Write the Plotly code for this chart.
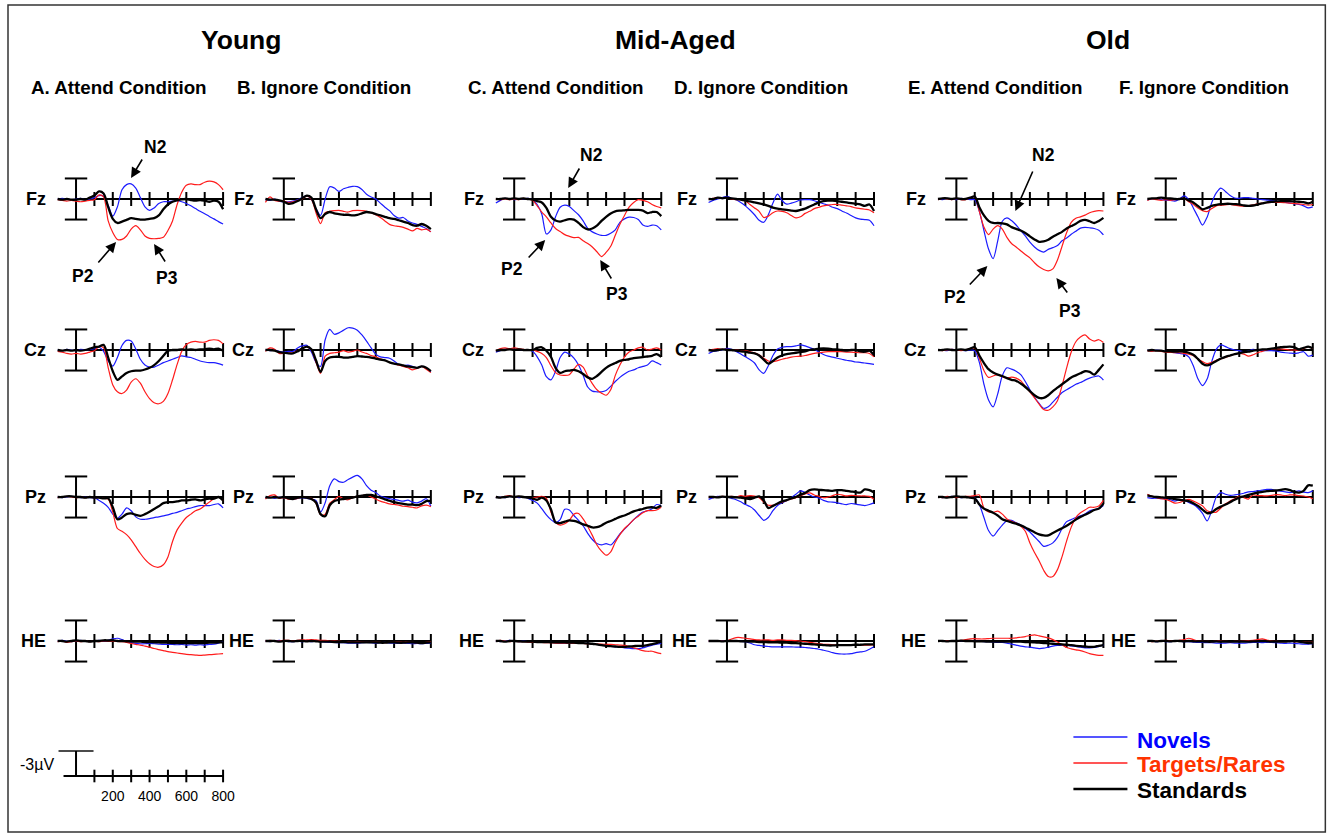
import plotly.graph_objects as go

# ---------------- data (microvolts, positive = downward as in the figure) -------------
T_MS = list(range(-100, 801, 25))  # 37 samples, -100 .. 800 ms

# Column A: Young, Attend
A_FZ_NOV = [0.0, -0.1, 0.0, 0.1, 0.0, -0.1, 0.1, 0.0, -0.2,
            -0.5, -0.4, 0.9, 2.5, 1.15, -1.35, -2.1, -2.2,
            -1.6, -0.2, 1.15, 1.65, 1.3, 0.65, 0.4, 0.4,
            0.3, 0.25, 0.4, 0.65, 1.0, 1.4, 1.8, 2.15,
            2.55, 2.9, 3.3, 3.65]
A_FZ_TAR = [0.1, 0.2, 0.3, 0.2, 0.3, 0.4, 0.3, 0.2, 0.1,
            -0.6, -0.3, 3.2, 4.9, 5.9, 5.9, 5.4, 4.4,
            3.9, 4.5, 5.4, 5.75, 5.8, 5.75, 5.6, 4.6,
            3.2, 0.8, -1.0, -2.0, -2.2, -2.1, -2.1, -2.45,
            -2.6, -2.5, -2.1, -1.35]
A_FZ_STD = [0.0, 0.1, 0.0, 0.1, 0.1, 0.0, 0.1, -0.2, -0.5,
            -1.1, -0.8, 1.2, 2.9, 3.5, 3.3, 3.05, 2.8,
            2.9, 3.0, 3.0, 2.9, 2.8, 2.4, 1.5, 0.8,
            0.4, 0.2, 0.05, 0.0, 0.15, 0.25, 0.15, 0.25,
            0.4, 0.25, 0.4, 1.5]
A_CZ_NOV = [0.0, 0.1, -0.1, 0.0, 0.1, -0.1, 0.0, -0.1, -0.2,
            -0.4, 0.2, 1.6, 2.35, 1.1, -0.65, -1.4, -1.3,
            -0.15, 1.35, 2.2, 2.5, 2.5, 2.2, 1.85, 1.6,
            1.35, 1.1, 0.85, 1.0, 1.1, 1.35, 1.6, 1.75,
            1.85, 1.85, 2.0, 2.2]
A_CZ_TAR = [0.2, 0.3, 0.5, 0.6, 0.5, 0.6, 0.5, 0.3, 0.1,
            -0.5, -0.3, 2.6, 5.1, 6.1, 6.35, 5.85, 4.7,
            4.2, 4.85, 6.1, 7.1, 7.7, 7.85, 7.5, 6.35,
            4.35, 2.1, 0.2, -0.8, -1.15, -1.25, -1.15, -1.15,
            -1.4, -1.5, -1.4, -0.9]
A_CZ_STD = [0.0, 0.1, 0.0, 0.1, 0.0, 0.1, 0.0, -0.2, -0.4,
            -0.5, -0.75, 1.1, 3.1, 4.35, 3.85, 3.35, 3.1,
            3.0, 3.0, 2.85, 2.6, 2.2, 1.6, 0.85, 0.1,
            0.0, 0.0, -0.1, 0.0, -0.1, 0.0, -0.1, -0.1,
            -0.2, -0.1, -0.2, 0.1]
A_PZ_NOV = [0.0, 0.1, 0.0, -0.1, 0.0, 0.1, 0.0, 0.1, 0.1,
            0.5, 0.9, 1.5, 2.5, 3.1, 2.5, 1.6, 2.0,
            2.9, 3.25, 3.25, 3.15, 3.0, 2.9, 2.75, 2.6,
            2.4, 2.25, 2.0, 1.75, 1.6, 1.4, 1.25, 1.25,
            1.25, 1.1, 1.0, 1.6]
A_PZ_TAR = [0.1, 0.0, -0.1, 0.0, 0.1, 0.0, 0.1, 0.0, 0.1,
            0.1, 0.2, 0.3, 2.2, 4.6, 5.0, 5.5, 6.25,
            7.25, 8.25, 9.1, 9.75, 10.15, 10.25, 9.9, 8.75,
            6.5, 4.8, 3.8, 3.0, 2.5, 2.0, 1.75, 1.25,
            0.75, 0.25, 0.0, 0.5]
A_PZ_STD = [0.0, 0.0, -0.1, -0.1, 0.0, 0.0, 0.1, 0.0, 0.1,
            0.1, 0.2, 0.2, 1.5, 3.25, 3.0, 2.5, 2.4,
            2.6, 2.75, 2.5, 2.15, 1.75, 1.35, 0.9, 0.75,
            0.75, 0.65, 0.5, 0.5, 0.4, 0.35, 0.5, 0.35,
            0.25, 0.25, 0.0, 0.5]
A_HE_NOV = [0.0, -0.1, 0.0, 0.1, 0.0, -0.1, 0.0, 0.1, 0.0,
            -0.1, 0.0, -0.1, -0.3, -0.4, -0.2, 0.1, 0.25,
            0.35, 0.4, 0.4, 0.35, 0.4, 0.45, 0.5, 0.5,
            0.5, 0.55, 0.5, 0.6, 0.55, 0.6, 0.55, 0.6,
            0.5, 0.45, 0.3, 0.1]
A_HE_TAR = [0.1, 0.0, 0.2, 0.1, 0.0, 0.1, 0.0, 0.1, 0.0,
            0.1, 0.0, 0.0, 0.05, 0.05, 0.1, 0.2, 0.35,
            0.5, 0.6, 0.75, 0.9, 1.1, 1.25, 1.4, 1.55,
            1.65, 1.75, 1.85, 1.95, 2.0, 2.05, 2.1, 2.05,
            2.0, 1.95, 1.9, 1.85]
A_HE_STD = [0.0, 0.0, 0.1, 0.0, -0.1, 0.0, 0.0, 0.1, 0.0,
            0.0, -0.1, -0.1, -0.1, 0.0, 0.0, 0.05, 0.05,
            0.1, 0.1, 0.15, 0.15, 0.2, 0.2, 0.25, 0.25,
            0.3, 0.3, 0.3, 0.3, 0.3, 0.3, 0.3, 0.3,
            0.25, 0.25, 0.2, 0.2]

# Column B: Young, Ignore
B_FZ_NOV = [0.1, 0.2, 0.0, 0.3, 0.4, 0.4, 0.3, 0.1, -0.2,
            -0.5, 0.0, 1.4, 2.4, 0.0, -1.8, -1.6, -1.1,
            -1.5, -1.7, -1.85, -1.8, -1.4, -0.7, -0.3, 0.0,
            0.6, 1.2, 1.7, 2.4, 2.8, 2.7, 3.2, 3.5,
            3.7, 4.0, 4.3, 4.8]
B_FZ_TAR = [0.5, -0.3, 0.2, 0.3, 0.3, 0.5, 0.4, 0.2, 0.0,
            -0.4, 0.0, 2.0, 3.6, 2.0, 1.8, 1.7, 1.65,
            1.8, 1.9, 1.7, 1.65, 1.7, 1.8, 2.0, 2.3,
            2.7, 3.2, 3.7, 3.9, 4.0, 4.15, 4.4, 4.65,
            4.3, 4.5, 4.4, 4.8]
B_FZ_STD = [0.0, 0.1, 0.1, 0.2, 0.4, 0.7, 0.6, 0.3, -0.1,
            -0.5, -0.2, 1.5, 2.8, 2.2, 1.9, 2.1, 2.2,
            2.3, 2.3, 2.4, 2.3, 2.1, 1.9, 2.0, 2.2,
            2.4, 2.6, 2.8, 2.9, 3.1, 3.3, 3.5, 3.8,
            3.9, 3.65, 3.9, 4.4]
B_CZ_NOV = [0.0, 0.1, 0.0, 0.2, 0.3, 0.2, 0.2, -0.3, -0.6,
            -0.7, 0.3, 1.8, 2.4, -1.5, -3.0, -2.3, -2.5,
            -2.9, -3.25, -3.2, -2.9, -2.2, -1.3, -0.3, 0.6,
            1.0, 1.1, 1.2, 1.6, 2.1, 2.3, 2.2, 2.4,
            2.6, 2.4, 2.6, 3.2]
B_CZ_TAR = [0.2, -0.3, -0.1, 0.5, 0.5, 0.4, 0.4, 0.1, -0.2,
            -0.5, 0.0, 1.8, 3.4, 0.9, 0.5, 0.4, 0.3,
            0.1, 0.3, 0.2, 0.0, 0.3, 0.5, 0.8, 1.0,
            1.3, 1.5, 1.8, 2.0, 2.2, 2.4, 2.6, 2.9,
            2.7, 2.4, 2.8, 3.3]
B_CZ_STD = [0.0, 0.0, 0.1, 0.3, 0.4, 0.5, 0.5, 0.2, -0.2,
            -0.5, -0.1, 1.5, 3.2, 1.6, 1.1, 1.0, 1.0,
            1.1, 1.1, 1.0, 0.9, 0.95, 1.0, 1.1, 1.25,
            1.4, 1.5, 1.8, 2.0, 2.1, 2.25, 2.4, 2.5,
            2.6, 2.4, 2.6, 3.1]
B_PZ_NOV = [0.1, 0.0, 0.2, 0.0, 0.1, 0.2, 0.3, 0.2, 0.1,
            0.2, 0.3, 0.5, 2.2, 0.85, -1.65, -2.65, -2.25,
            -2.15, -2.55, -2.9, -3.15, -2.65, -1.65, -1.0, -0.65,
            -0.15, 0.1, 0.25, 0.35, 0.5, 0.6, 0.45, 0.75,
            0.85, 0.6, 0.25, 1.35]
B_PZ_TAR = [0.3, -0.2, -0.3, 0.2, 0.1, 0.3, 0.3, 0.2, 0.0,
            0.1, 0.2, 0.9, 2.6, 2.5, 0.9, 0.4, -0.1,
            0.3, 0.4, 0.1, -0.1, -0.2, -0.3, 0.0, 0.3,
            0.6, 0.8, 1.0, 1.1, 1.2, 1.35, 1.4, 1.5,
            1.6, 1.3, 1.2, 1.4]
B_PZ_STD = [0.0, 0.1, 0.0, 0.1, 0.0, 0.2, 0.3, 0.1, 0.0,
            0.1, 0.3, 0.8, 2.5, 2.8, 1.2, 0.6, 0.4,
            0.3, 0.2, 0.1, -0.1, -0.2, -0.3, -0.3, -0.1,
            0.1, 0.35, 0.55, 0.75, 0.9, 1.0, 1.1, 1.1,
            1.2, 1.0, 0.6, 0.6]
B_HE_NOV = [0.0, 0.1, 0.0, -0.1, 0.0, 0.1, 0.1, 0.0, 0.1,
            0.0, 0.1, 0.0, 0.1, 0.15, 0.2, 0.2, 0.25,
            0.25, 0.3, 0.3, 0.3, 0.25, 0.2, 0.25, 0.3,
            0.25, 0.2, 0.3, 0.3, 0.35, 0.3, 0.35, 0.4,
            0.35, 0.4, 0.35, 0.3]
B_HE_TAR = [0.0, -0.1, 0.0, 0.0, -0.1, -0.1, 0.0, -0.1, -0.15,
            -0.15, -0.2, -0.15, -0.1, -0.1, 0.0, 0.0, 0.05,
            0.1, 0.1, 0.15, 0.1, 0.15, 0.2, 0.2, 0.15,
            0.2, 0.25, 0.2, 0.2, 0.15, 0.2, 0.15, 0.2,
            0.25, 0.3, 0.2, 0.1]
B_HE_STD = [0.0, 0.0, 0.0, 0.1, 0.0, 0.0, 0.05, 0.0, 0.0,
            0.05, 0.0, 0.05, 0.1, 0.1, 0.1, 0.15, 0.15,
            0.15, 0.2, 0.2, 0.2, 0.2, 0.2, 0.2, 0.2,
            0.25, 0.25, 0.2, 0.2, 0.25, 0.25, 0.2, 0.2,
            0.25, 0.3, 0.25, 0.2]

# Column C: Mid-Aged, Attend
C_FZ_NOV = [0.6, 0.2, -0.1, 0.0, 0.1, 0.0, 0.0, -0.1, 0.1,
            0.8, 2.2, 5.1, 4.5, 2.6, 1.2, 0.9, 1.1,
            1.7, 2.3, 3.2, 4.3, 4.8, 5.1, 5.3, 5.3,
            5.0, 4.5, 3.4, 2.9, 2.65, 2.7, 3.0, 3.8,
            4.0, 3.8, 3.9, 4.5]
C_FZ_TAR = [0.0, 0.1, 0.0, 0.1, 0.0, 0.1, -0.1, 0.0, 0.2,
            1.0, 1.9, 2.6, 3.5, 4.3, 4.75, 5.2, 5.45,
            5.65, 5.6, 6.1, 6.5, 7.0, 7.7, 8.4, 7.8,
            6.9, 5.3, 3.7, 2.4, 1.2, 0.5, 0.1, 0.2,
            0.4, 0.8, 1.1, 1.3]
C_FZ_STD = [0.0, 0.0, -0.1, 0.0, -0.1, 0.0, -0.1, 0.0, 0.1,
            0.3, 0.5, 1.3, 2.6, 3.15, 3.3, 3.1, 2.95,
            3.0, 3.5, 4.1, 4.45, 4.3, 3.9, 3.2, 2.6,
            2.1, 1.8, 1.7, 1.65, 1.6, 1.6, 1.6, 1.7,
            2.05, 1.9, 1.9, 2.5]
C_CZ_NOV = [0.3, 0.1, -0.1, -0.2, -0.1, -0.1, 0.0, 0.0, 0.2,
            1.0, 2.2, 3.9, 4.35, 3.1, 1.1, 0.3, 0.6,
            1.2, 2.2, 3.7, 5.4, 6.0, 6.1, 6.1, 5.9,
            5.3, 4.6, 4.0, 3.5, 3.1, 2.9, 2.6, 2.4,
            2.2, 1.6, 1.85, 2.2]
C_CZ_TAR = [0.1, -0.2, -0.3, -0.2, -0.3, -0.2, -0.1, 0.0, 0.0,
            0.2, 0.5, 1.1, 2.3, 3.3, 3.65, 3.7, 3.6,
            2.8, 2.1, 2.5, 3.8, 4.9, 5.8, 6.3, 6.6,
            5.8, 3.7, 2.2, 1.0, 0.3, 0.0, -0.3, -0.4,
            0.0, -0.15, -0.3, 0.0]
C_CZ_STD = [0.1, 0.0, 0.0, -0.1, 0.0, -0.1, 0.0, 0.0, 0.0,
            -0.3, -0.4, 0.1, 1.0, 2.6, 3.35, 3.1, 3.0,
            2.9, 3.1, 3.5, 4.0, 4.2, 3.8, 3.2, 2.6,
            2.2, 1.9, 1.6, 1.45, 1.35, 1.2, 1.1, 1.05,
            0.95, 0.85, 0.6, 1.0]
C_PZ_NOV = [0.1, 0.0, 0.1, -0.1, 0.0, 0.1, 0.0, 0.2, 0.5,
            0.9, 1.7, 2.6, 3.3, 3.75, 3.3, 1.8, 1.9,
            2.7, 3.4, 4.2, 5.3, 6.2, 6.8, 7.0, 6.8,
            7.0, 6.3, 5.4, 4.7, 4.0, 3.3, 2.7, 2.2,
            2.0, 1.7, 1.1, 1.25]
C_PZ_TAR = [0.0, 0.1, -0.1, -0.2, 0.0, -0.1, 0.0, 0.1, 0.1,
            0.0, -0.1, 0.2, 2.2, 3.7, 4.1, 3.9, 3.4,
            2.5, 2.4, 3.2, 4.3, 5.6, 7.0, 7.9, 8.5,
            8.0, 6.6, 5.5, 4.6, 4.0, 3.3, 2.8, 2.3,
            2.0, 2.0, 1.9, 1.5]
C_PZ_STD = [0.0, 0.1, 0.0, -0.1, 0.0, -0.1, 0.0, 0.1, 0.2,
            0.4, 0.1, 0.5, 1.8, 3.7, 3.8, 3.6, 3.4,
            3.5, 3.7, 4.0, 4.2, 4.45, 4.4, 4.15, 3.75,
            3.5, 3.2, 2.9, 2.7, 2.4, 2.1, 1.9, 1.75,
            1.55, 1.5, 1.6, 1.25]
C_HE_NOV = [0.0, 0.1, 0.0, -0.1, 0.0, 0.1, 0.0, 0.1, 0.1,
            0.1, 0.15, 0.2, 0.2, 0.25, 0.3, 0.3, 0.3,
            0.3, 0.35, 0.35, 0.35, 0.4, 0.5, 0.6, 0.7,
            0.8, 0.85, 0.9, 1.0, 1.05, 1.1, 1.1, 1.0,
            0.8, 0.6, 0.45, 0.35]
C_HE_TAR = [0.0, -0.1, 0.0, 0.1, 0.0, 0.1, 0.1, 0.15, 0.2,
            0.2, 0.2, 0.25, 0.25, 0.3, 0.3, 0.3, 0.3,
            0.35, 0.35, 0.35, 0.4, 0.4, 0.45, 0.45, 0.5,
            0.5, 0.55, 0.6, 0.65, 0.8, 1.0, 1.2, 1.4,
            1.5, 1.5, 1.7, 1.85]
C_HE_STD = [0.0, 0.0, 0.1, 0.0, 0.0, 0.05, 0.1, 0.1, 0.1,
            0.15, 0.15, 0.15, 0.2, 0.2, 0.2, 0.2, 0.25,
            0.25, 0.3, 0.3, 0.35, 0.4, 0.5, 0.6, 0.7,
            0.75, 0.8, 0.85, 0.85, 0.8, 0.75, 0.7, 0.7,
            0.6, 0.45, 0.3, 0.1]

# Column D: Mid-Aged, Ignore
D_FZ_NOV = [0.5, 0.2, 0.0, -0.2, -0.4, -0.1, 0.1, 0.5, 1.0,
            1.6, 2.3, 3.1, 3.4, 2.3, 0.6, -0.7, 0.25,
            0.75, 0.6, 0.4, 0.15, 0.1, 0.1, 0.25, 0.45,
            0.7, 0.9, 1.2, 1.4, 1.75, 2.05, 2.4, 2.75,
            2.95, 3.0, 3.1, 3.9]
D_FZ_TAR = [0.0, -0.1, -0.2, -0.1, -0.2, 0.0, 0.1, 0.1, 0.3,
            0.8, 1.3, 1.8, 2.7, 2.5, 2.0, 1.75, 1.8,
            2.0, 2.4, 2.75, 2.6, 2.1, 1.8, 1.4, 1.2,
            1.0, 0.9, 0.8, 0.8, 0.9, 1.0, 1.1, 1.3,
            1.4, 1.5, 1.6, 2.0]
D_FZ_STD = [0.0, 0.0, -0.2, -0.1, -0.2, -0.1, 0.0, 0.1, 0.25,
            0.35, 0.5, 0.65, 0.8, 1.0, 1.25, 1.4, 1.5,
            1.6, 1.7, 1.75, 1.6, 1.4, 1.1, 0.8, 0.5,
            0.3, 0.25, 0.25, 0.3, 0.4, 0.5, 0.6, 0.7,
            0.8, 1.0, 0.8, 1.75]
D_CZ_NOV = [0.5, 0.2, 0.1, 0.0, -0.25, -0.1, 0.2, 0.6, 1.0,
            1.4, 1.9, 2.9, 3.4, 2.3, 0.8, -0.15, -0.4,
            -0.5, -0.5, -0.6, -0.75, -0.6, -0.35, -0.1, 0.3,
            0.65, 0.9, 1.05, 1.2, 1.35, 1.5, 1.6, 1.75,
            1.8, 1.9, 2.0, 2.1]
D_CZ_TAR = [0.0, -0.1, -0.2, -0.1, -0.1, 0.0, 0.0, 0.1, 0.1,
            0.25, 0.4, 0.7, 1.2, 1.6, 1.7, 1.55, 1.35,
            1.2, 1.05, 0.95, 0.9, 0.8, 0.65, 0.5, 0.4,
            0.3, 0.25, 0.25, 0.25, 0.25, 0.3, 0.3, 0.35,
            0.4, 0.4, 0.5, 1.0]
D_CZ_STD = [0.0, 0.1, 0.0, -0.1, 0.0, 0.0, 0.1, 0.2, 0.25,
            0.4, 0.5, 0.8, 1.4, 2.0, 1.6, 1.1, 0.8,
            0.6, 0.5, 0.4, 0.3, 0.2, 0.0, -0.1, -0.2,
            -0.25, -0.2, -0.1, -0.1, 0.0, 0.1, 0.0, 0.0,
            0.2, 0.25, 0.1, 0.75]
D_PZ_NOV = [0.35, 0.1, -0.1, 0.0, 0.0, 0.2, 0.4, 0.7, 1.1,
            1.4, 1.9, 2.7, 3.4, 3.0, 2.0, 1.25, 0.85,
            0.5, 0.1, -0.4, -0.9, -0.65, -0.3, 0.0, 0.15,
            0.5, 0.7, 0.75, 0.85, 1.0, 1.1, 0.95, 1.05,
            1.15, 1.25, 1.1, 0.85]
D_PZ_TAR = [0.0, 0.1, 0.0, -0.1, 0.0, -0.1, 0.0, -0.2, -0.1,
            -0.2, -0.15, 0.1, 0.75, 1.2, 1.2, 1.0, 0.75,
            0.5, 0.3, 0.1, -0.2, -0.45, -0.6, -0.3, -0.1,
            0.1, 0.0, -0.2, -0.4, -0.3, -0.15, -0.25, -0.2,
            -0.15, -0.15, -0.1, 0.35]
D_PZ_STD = [0.0, 0.0, 0.05, -0.05, 0.0, 0.0, 0.05, 0.1, 0.2,
            0.3, 0.1, -0.1, 0.5, 1.6, 1.3, 0.95, 0.65,
            0.45, 0.2, 0.0, -0.35, -0.6, -1.0, -1.1, -1.05,
            -1.0, -0.95, -0.9, -1.0, -1.0, -0.9, -0.8, -0.7,
            -0.65, -1.1, -1.0, -0.65]
D_HE_NOV = [0.0, 0.05, 0.0, -0.05, 0.0, 0.0, 0.05, 0.05, 0.1,
            0.3, 0.55, 0.65, 0.75, 0.8, 0.85, 0.85, 0.85,
            0.85, 0.85, 0.9, 0.9, 0.95, 1.0, 1.1, 1.2,
            1.35, 1.5, 1.7, 1.85, 1.9, 1.9, 1.85, 1.7,
            1.6, 1.5, 1.2, 0.85]
D_HE_TAR = [0.0, 0.0, -0.05, 0.0, 0.0, -0.3, -0.5, -0.5, -0.4,
            -0.3, -0.2, -0.15, -0.15, -0.15, -0.1, -0.15, -0.15,
            -0.1, -0.1, -0.05, 0.0, 0.1, 0.2, 0.3, 0.4,
            0.5, 0.5, 0.55, 0.6, 0.6, 0.6, 0.6, 0.6,
            0.6, 0.6, 0.6, 0.55]
D_HE_STD = [0.0, 0.0, 0.0, 0.05, 0.0, 0.0, 0.0, 0.05, 0.05,
            0.1, 0.1, 0.15, 0.15, 0.2, 0.2, 0.2, 0.25,
            0.25, 0.3, 0.3, 0.35, 0.4, 0.45, 0.5, 0.55,
            0.6, 0.65, 0.65, 0.6, 0.6, 0.6, 0.6, 0.55,
            0.55, 0.5, 0.5, 0.5]

# Column E: Old, Attend
E_FZ_NOV = [0.0, 0.1, -0.1, 0.0, 0.1, -0.1, 0.0, 0.1, 0.1,
            1.8, 4.6, 7.3, 8.7, 6.1, 3.25, 2.75, 3.15,
            3.8, 4.6, 5.4, 6.3, 7.0, 7.5, 7.75, 7.35,
            7.1, 6.8, 6.1, 5.7, 5.15, 4.7, 4.25, 4.15,
            4.2, 4.3, 4.55, 5.25]
E_FZ_TAR = [0.1, -0.1, 0.0, 0.1, -0.1, 0.1, 0.1, -0.2, -0.3,
            1.8, 4.1, 5.2, 4.4, 3.9, 4.4, 5.6, 6.5,
            7.0, 7.55, 8.1, 8.6, 9.3, 9.9, 10.3, 10.5,
            10.2, 8.9, 6.9, 4.9, 3.4, 2.8, 2.6, 2.35,
            2.0, 1.8, 1.7, 1.75]
E_FZ_STD = [0.0, -0.1, -0.1, 0.0, -0.1, 0.0, 0.0, -0.2, -0.35,
            1.2, 2.4, 3.2, 3.5, 3.5, 3.55, 3.7, 4.1,
            4.35, 4.6, 4.95, 5.45, 5.9, 6.25, 6.2, 5.95,
            5.5, 5.15, 4.8, 4.3, 3.95, 3.6, 3.2, 3.05,
            3.25, 3.5, 3.2, 2.75]
E_CZ_NOV = [0.0, 0.0, 0.1, -0.1, 0.0, 0.0, 0.1, 0.0, 0.1,
            1.8, 5.0, 7.3, 8.3, 6.4, 3.75, 2.6, 2.8,
            3.1, 3.6, 4.6, 5.8, 6.9, 7.8, 8.5, 8.3,
            7.6, 6.9, 6.2, 5.8, 5.4, 5.0, 4.75, 4.4,
            4.1, 3.9, 3.8, 4.4]
E_CZ_TAR = [0.0, 0.1, 0.0, -0.1, 0.0, 0.1, 0.0, -0.2, -0.3,
            1.2, 3.0, 4.0, 3.8, 3.6, 3.9, 4.1, 3.95,
            4.1, 4.5, 5.3, 6.1, 7.0, 7.9, 8.7, 8.8,
            8.3, 7.4, 5.2, 2.6, 0.3, -1.2, -1.9, -2.2,
            -1.6, -1.3, -1.5, -1.1]
E_CZ_STD = [0.0, 0.0, -0.1, 0.0, 0.0, -0.1, 0.0, -0.2, -0.4,
            0.8, 1.9, 2.8, 3.3, 3.6, 3.8, 4.1, 4.35,
            4.5, 4.9, 5.4, 6.0, 6.6, 7.0, 7.0, 6.6,
            6.0, 5.5, 5.0, 4.5, 4.0, 3.7, 3.4, 3.1,
            3.2, 3.6, 2.9, 2.1]
E_PZ_NOV = [0.0, 0.1, 0.0, -0.1, 0.0, 0.1, 0.0, 0.0, 0.1,
            1.1, 3.0, 4.9, 5.7, 4.9, 4.1, 3.45, 3.4,
            3.75, 4.1, 4.6, 5.1, 5.8, 6.5, 7.2, 7.05,
            6.7, 5.9, 4.6, 3.6, 3.3, 3.0, 2.75, 2.5,
            2.0, 1.85, 1.7, 1.25]
E_PZ_TAR = [0.0, 0.1, -0.1, 0.0, 0.1, 0.0, -0.1, -0.1, -0.2,
            -0.3, 1.6, 2.2, 2.25, 2.05, 2.5, 3.2, 3.55,
            3.8, 4.25, 5.0, 6.7, 8.1, 9.3, 10.7, 11.6,
            11.6, 10.6, 8.7, 6.4, 4.4, 3.0, 2.3, 1.9,
            1.5, 1.5, 1.3, 0.5]
E_PZ_STD = [0.0, 0.0, 0.1, 0.0, -0.1, 0.0, 0.0, 0.1, 0.2,
            1.1, 1.7, 2.0, 2.3, 2.7, 3.25, 3.5, 3.7,
            3.9, 4.15, 4.45, 4.8, 5.15, 5.45, 5.6, 5.6,
            5.25, 4.9, 4.55, 4.2, 3.75, 3.3, 2.9, 2.6,
            2.25, 1.9, 1.7, 1.0]
E_HE_NOV = [0.0, 0.05, 0.0, -0.05, 0.0, 0.0, 0.05, 0.0, 0.05,
            0.05, 0.1, 0.1, 0.15, 0.2, 0.2, 0.3, 0.45,
            0.6, 0.75, 0.85, 0.9, 1.0, 1.1, 1.05, 0.9,
            0.75, 0.65, 0.6, 0.6, 0.7, 0.8, 0.9, 1.0,
            1.0, 0.95, 0.8, 0.6]
E_HE_TAR = [0.0, 0.0, -0.05, 0.0, 0.0, -0.1, -0.2, -0.3, -0.35,
            -0.3, -0.3, -0.35, -0.4, -0.4, -0.4, -0.4, -0.4,
            -0.45, -0.55, -0.65, -0.8, -0.9, -0.75, -0.6, -0.45,
            -0.2, 0.15, 0.55, 0.95, 1.15, 1.3, 1.4, 1.6,
            1.85, 2.0, 2.1, 2.1]
E_HE_STD = [0.0, 0.0, 0.05, 0.0, 0.0, -0.05, 0.0, 0.0, 0.05,
            0.05, 0.05, 0.1, 0.1, 0.1, 0.1, 0.1, 0.1,
            0.1, 0.1, 0.15, 0.15, 0.2, 0.25, 0.3, 0.35,
            0.4, 0.45, 0.5, 0.55, 0.6, 0.7, 0.75, 0.8,
            0.85, 0.85, 0.7, 0.6]

# Column F: Old, Ignore
F_FZ_NOV = [0.15, 0.0, -0.1, 0.1, 0.15, 0.2, 0.3, 0.0, -0.45,
            0.1, 1.3, 2.6, 3.8, 2.65, 0.55, -0.9, -1.6,
            -1.1, -0.5, -0.15, -0.1, -0.2, -0.2, -0.1, 0.0,
            0.1, 0.15, 0.2, 0.3, 0.4, 0.5, 0.6, 0.7,
            0.8, 1.0, 1.3, 1.15]
F_FZ_TAR = [0.2, 0.0, 0.1, 0.2, 0.1, 0.2, 0.1, 0.0, -0.1,
            0.4, 0.8, 1.3, 1.7, 1.85, 1.4, 1.0, 0.9,
            0.85, 0.8, 0.9, 1.0, 1.05, 1.0, 0.85, 0.7,
            0.6, 0.55, 0.5, 0.5, 0.5, 0.55, 0.6, 0.65,
            0.7, 0.8, 0.9, 0.8]
F_FZ_STD = [0.0, -0.1, -0.1, -0.2, -0.1, -0.1, 0.0, 0.0, -0.1,
            0.2, 0.5, 1.0, 1.5, 1.3, 1.0, 0.85, 0.75,
            0.7, 0.7, 0.75, 0.8, 0.95, 1.0, 0.95, 0.8,
            0.65, 0.5, 0.4, 0.35, 0.3, 0.3, 0.3, 0.35,
            0.4, 0.45, 0.65, 0.4]
F_CZ_NOV = [0.0, 0.1, 0.0, 0.1, 0.2, 0.3, 0.4, 0.5, 0.6,
            1.0, 2.3, 4.2, 5.2, 4.25, 1.7, -0.1, -0.75,
            -0.5, -0.2, 0.0, 0.1, 0.25, 0.15, -0.1, 0.0,
            0.1, 0.1, 0.1, 0.15, 0.3, 0.4, 0.45, 0.5,
            0.4, 0.25, 0.9, 0.75]
F_CZ_TAR = [0.1, 0.2, 0.1, 0.2, 0.3, 0.35, 0.4, 0.4, 0.5,
            0.6, 0.8, 1.35, 1.7, 2.0, 1.8, 1.5, 1.3,
            1.1, 0.85, 0.6, 0.5, 0.6, 0.9, 0.7, 0.4,
            0.2, 0.0, -0.1, -0.2, -0.15, -0.1, 0.0, 0.0,
            0.0, -0.2, -0.5, -0.25]
F_CZ_STD = [0.1, 0.0, 0.1, 0.1, 0.2, 0.2, 0.25, 0.2, 0.25,
            0.4, 0.7, 1.3, 2.0, 2.25, 2.0, 1.6, 1.25,
            1.0, 0.8, 0.6, 0.45, 0.3, 0.25, 0.1, 0.0,
            -0.1, -0.1, -0.2, -0.3, -0.4, -0.45, -0.5, -0.4,
            -0.1, -0.3, -0.5, -0.25]
F_PZ_NOV = [0.1, 0.2, 0.15, 0.25, 0.25, 0.4, 0.6, 0.4, 0.5,
            0.8, 1.1, 1.6, 2.4, 3.5, 2.0, 0.0, -0.65,
            -0.4, -0.25, -0.3, -0.4, -0.55, -0.75, -0.8, -0.9,
            -1.0, -1.1, -1.1, -0.95, -0.85, -0.75, -0.65, -0.75,
            -0.9, -0.7, -0.65, -0.9]
F_PZ_TAR = [-0.4, -0.1, 0.1, 0.25, 0.35, 0.6, 0.9, 0.8, 0.55,
            0.35, 0.6, 0.9, 1.3, 2.0, 2.2, 2.2, 1.6,
            1.0, 0.6, 0.25, -0.1, 0.1, 0.3, -0.3, -0.2,
            -0.2, -0.15, -0.25, -0.35, -0.3, -0.2, -0.3, -0.3,
            -0.2, -0.15, 0.0, 0.25]
F_PZ_STD = [-0.25, -0.1, 0.0, 0.05, 0.1, 0.2, 0.3, 0.4, 0.5,
            0.6, 0.9, 1.3, 1.85, 2.35, 2.25, 1.75, 1.4,
            1.1, 0.75, 0.4, 0.1, -0.1, -0.3, -0.5, -0.65,
            -0.75, -0.85, -0.9, -0.95, -1.05, -1.15, -1.0, -0.75,
            -0.65, -0.9, -1.7, -1.65]
F_HE_NOV = [0.1, 0.0, 0.1, 0.05, 0.1, 0.1, 0.0, 0.05, 0.1,
            0.1, 0.15, 0.2, 0.2, 0.25, 0.25, 0.3, 0.3,
            0.3, 0.25, 0.3, 0.3, 0.3, 0.25, 0.2, 0.2,
            0.25, 0.2, 0.2, 0.25, 0.3, 0.35, 0.3, 0.35,
            0.4, 0.45, 0.45, 0.4]
F_HE_TAR = [0.0, 0.1, 0.0, 0.0, -0.1, 0.0, 0.0, -0.1, -0.2,
            -0.4, -0.2, 0.0, 0.0, 0.05, 0.1, 0.0, 0.0,
            0.05, 0.1, 0.05, 0.05, 0.0, -0.05, -0.1, -0.2,
            -0.3, -0.15, 0.0, 0.05, 0.1, 0.1, 0.05, 0.1,
            0.1, 0.15, 0.2, 0.2]
F_HE_STD = [0.0, 0.0, 0.05, 0.0, 0.0, 0.05, 0.0, 0.0, 0.05,
            0.0, 0.05, 0.05, 0.05, 0.1, 0.1, 0.05, 0.1,
            0.1, 0.1, 0.1, 0.1, 0.1, 0.1, 0.05, 0.05,
            0.0, 0.05, 0.1, 0.1, 0.1, 0.1, 0.05, 0.0,
            0.1, 0.2, 0.3, 0.3]

# Labels
COLUMNS = ["A", "B", "C", "D", "E", "F"]
ROWS = ["Fz", "Cz", "Pz", "HE"]
GROUP_TITLES = ["Young", "Mid-Aged", "Old"]
PANEL_TITLES = ["A. Attend Condition", "B. Ignore Condition",
                "C. Attend Condition", "D. Ignore Condition",
                "E. Attend Condition", "F. Ignore Condition"]
SERIES_NAMES = ["Novels", "Targets/Rares", "Standards"]
AXIS_TICKS_MS = [100, 200, 300, 400, 500, 600, 700, 800]
SCALE_TICK_LABELS = [200, 400, 600, 800]
CAL_UV = 3.0
SCALE_TEXT = "-3µV"

DATA = {
    ("A", "Fz"): (A_FZ_NOV, A_FZ_TAR, A_FZ_STD), ("A", "Cz"): (A_CZ_NOV, A_CZ_TAR, A_CZ_STD),
    ("A", "Pz"): (A_PZ_NOV, A_PZ_TAR, A_PZ_STD), ("A", "HE"): (A_HE_NOV, A_HE_TAR, A_HE_STD),
    ("B", "Fz"): (B_FZ_NOV, B_FZ_TAR, B_FZ_STD), ("B", "Cz"): (B_CZ_NOV, B_CZ_TAR, B_CZ_STD),
    ("B", "Pz"): (B_PZ_NOV, B_PZ_TAR, B_PZ_STD), ("B", "HE"): (B_HE_NOV, B_HE_TAR, B_HE_STD),
    ("C", "Fz"): (C_FZ_NOV, C_FZ_TAR, C_FZ_STD), ("C", "Cz"): (C_CZ_NOV, C_CZ_TAR, C_CZ_STD),
    ("C", "Pz"): (C_PZ_NOV, C_PZ_TAR, C_PZ_STD), ("C", "HE"): (C_HE_NOV, C_HE_TAR, C_HE_STD),
    ("D", "Fz"): (D_FZ_NOV, D_FZ_TAR, D_FZ_STD), ("D", "Cz"): (D_CZ_NOV, D_CZ_TAR, D_CZ_STD),
    ("D", "Pz"): (D_PZ_NOV, D_PZ_TAR, D_PZ_STD), ("D", "HE"): (D_HE_NOV, D_HE_TAR, D_HE_STD),
    ("E", "Fz"): (E_FZ_NOV, E_FZ_TAR, E_FZ_STD), ("E", "Cz"): (E_CZ_NOV, E_CZ_TAR, E_CZ_STD),
    ("E", "Pz"): (E_PZ_NOV, E_PZ_TAR, E_PZ_STD), ("E", "HE"): (E_HE_NOV, E_HE_TAR, E_HE_STD),
    ("F", "Fz"): (F_FZ_NOV, F_FZ_TAR, F_FZ_STD), ("F", "Cz"): (F_CZ_NOV, F_CZ_TAR, F_CZ_STD),
    ("F", "Pz"): (F_PZ_NOV, F_PZ_TAR, F_PZ_STD), ("F", "HE"): (F_HE_NOV, F_HE_TAR, F_HE_STD),
}
for key, arrs in DATA.items():
    for a in arrs:
        assert len(a) == len(T_MS), (key, len(a))

# ---------------- styling / geometry ----------------
W, H = 1336, 833
W_EFF = 1325.5     # horizontal extent the page is actually photographed at
FONT = "Liberation Sans, Arial, Helvetica, sans-serif"
COLORS = ["#1c1cff", "#ff1c1c", "#000000"]
WIDTHS = [1.2, 1.2, 2.3]
COL_X0 = [76.0, 283.7, 514.0, 726.7, 956.0, 1165.3]   # px of 0 ms
ROW_Y0 = [199.0, 350.0, 497.0, 641.0]                 # px of baseline
PX_MS = 0.18375
PX_UV = 6.85
XR = [-112.0, 812.0]
YR = [13.0, -9.0]      # reversed: negative up


def fx(px):
    return min(px / W_EFF, 0.9995)


def fy(py):
    return 1.0 - py / H


fig = go.Figure()
layout_axes = {}
annotations = []
shapes = []


def axis_names(n):
    return ("x" if n == 1 else f"x{n}"), ("y" if n == 1 else f"y{n}")


def add_axes(n, x0px, y0px, xr, yr, pxuv):
    xa, ya = axis_names(n)
    xkey = "xaxis" if n == 1 else f"xaxis{n}"
    ykey = "yaxis" if n == 1 else f"yaxis{n}"
    layout_axes[xkey] = dict(domain=[fx(x0px + xr[0] * PX_MS), fx(x0px + xr[1] * PX_MS)],
                             range=xr, visible=False, anchor=ya, fixedrange=True)
    layout_axes[ykey] = dict(domain=[fy(y0px + yr[0] * pxuv), fy(y0px + yr[1] * pxuv)],
                             range=yr, visible=False, anchor=xa, fixedrange=True)
    return xa, ya


n = 0
for ri, row in enumerate(ROWS):
    for ci, col in enumerate(COLUMNS):
        n += 1
        xa, ya = add_axes(n, COL_X0[ci], ROW_Y0[ri], XR, YR, PX_UV)
        common = dict(xaxis=xa, yaxis=ya, showlegend=False, hoverinfo="skip")
        fig.add_trace(go.Scatter(x=[0, AXIS_TICKS_MS[-1]], y=[0, 0], mode="lines",
                                 line=dict(color="black", width=2), **common))
        fig.add_trace(go.Scatter(x=AXIS_TICKS_MS, y=[0] * len(AXIS_TICKS_MS), mode="markers",
                                 marker=dict(symbol="line-ns", size=10, color="black",
                                             line=dict(color="black", width=2)),
                                 cliponaxis=False, **common))
        fig.add_trace(go.Scatter(x=[0, 0], y=[-CAL_UV, CAL_UV], mode="lines+markers",
                                 line=dict(color="black", width=2),
                                 marker=dict(symbol="line-ew", size=16, color="black",
                                             line=dict(color="black", width=2)),
                                 cliponaxis=False, **common))
        for si, arr in enumerate(DATA[(col, row)]):
            fig.add_trace(go.Scatter(x=T_MS, y=arr, mode="lines", name=SERIES_NAMES[si],
                                     line=dict(color=COLORS[si], width=WIDTHS[si],
                                               shape="spline", smoothing=0.8),
                                     **common))
        annotations.append(dict(text=f"<b>{row}</b>", x=fx(COL_X0[ci] - 28), y=fy(ROW_Y0[ri]),
                                xref="paper", yref="paper", xanchor="right", yanchor="middle",
                                showarrow=False, font=dict(family=FONT, size=18, color="black")))

# ---------------- scale bar subplot ----------------
n += 1
SCALE_X0, SCALE_Y0, SCALE_PXUV = 76.0, 776.0, 25.0 / 3.0
xa, ya = add_axes(n, SCALE_X0, SCALE_Y0, XR, [1.25, -3.6], SCALE_PXUV)
xkey = f"xaxis{n}"
layout_axes[xkey].update(visible=True, showline=False, showgrid=False, zeroline=False,
                         ticks="", tickmode="array", tickvals=SCALE_TICK_LABELS,
                         ticktext=[str(v) for v in SCALE_TICK_LABELS],
                         tickfont=dict(family=FONT, size=14, color="black"))
common = dict(xaxis=xa, yaxis=ya, showlegend=False, hoverinfo="skip")
fig.add_trace(go.Scatter(x=[-68, AXIS_TICKS_MS[-1]], y=[0, 0], mode="lines",
                         line=dict(color="black", width=2), **common))
fig.add_trace(go.Scatter(x=AXIS_TICKS_MS, y=[0] * len(AXIS_TICKS_MS), mode="markers",
                         marker=dict(symbol="line-ns", size=9, color="black",
                                     line=dict(color="black", width=2)),
                         cliponaxis=False, **common))
fig.add_trace(go.Scatter(x=[0, 0], y=[0, -CAL_UV], mode="lines+markers",
                         line=dict(color="black", width=2),
                         marker=dict(symbol="line-ew", size=[0, 25], color="black",
                                     line=dict(color="black", width=2)),
                         cliponaxis=False, **common))
annotations.append(dict(text=SCALE_TEXT, x=fx(56), y=fy(764), xref="paper", yref="paper",
                        xanchor="right", yanchor="middle", showarrow=False,
                        font=dict(family=FONT, size=16, color="black")))

# ---------------- titles ----------------
for t, cx in zip(GROUP_TITLES, [241, 675, 1108]):
    annotations.append(dict(text=f"<b>{t}</b>", x=fx(cx), y=fy(40), xref="paper", yref="paper",
                            xanchor="center", yanchor="middle", showarrow=False,
                            font=dict(family=FONT, size=26.5, color="black")))
for t, cx in zip(PANEL_TITLES, [119, 323.5, 556, 760.5, 995.5, 1203.5]):
    annotations.append(dict(text=f"<b>{t}</b>", x=fx(cx), y=fy(88), xref="paper", yref="paper",
                            xanchor="center", yanchor="middle", showarrow=False,
                            font=dict(family=FONT, size=18.8, color="black")))

# ---------------- component labels with arrows ----------------
COMPONENT_LABELS = [
    # text, text center px, arrow tail px, arrow head px
    ("N2", (155, 147), (143, 158), (131, 178)),
    ("P2", (83, 276), (97, 264), (116, 242)),
    ("P3", (167, 278), (166, 263), (154, 244)),
    ("N2", (591, 155), (580, 167), (568, 188)),
    ("P2", (512, 269), (527, 259), (545, 240)),
    ("P3", (617, 294), (612, 280), (600, 260)),
    ("N2", (1043, 155), (1033, 170), (1015, 211)),
    ("P2", (955, 297), (968, 286), (987, 266)),
    ("P3", (1070, 311), (1068, 294), (1056, 278)),
]
for txt, (tx, ty), (ax0, ay0), (hx, hy) in COMPONENT_LABELS:
    annotations.append(dict(text=f"<b>{txt}</b>", x=fx(tx), y=fy(ty), xref="paper", yref="paper",
                            xanchor="center", yanchor="middle", showarrow=False,
                            font=dict(family=FONT, size=17.5, color="black")))
    annotations.append(dict(text="", x=fx(hx), y=fy(hy), xref="paper", yref="paper",
                            ax=ax0 - hx, ay=ay0 - hy, axref="pixel", ayref="pixel",
                            showarrow=True, arrowhead=2, arrowsize=1.3, arrowwidth=1.6,
                            arrowcolor="black"))

# ---------------- legend ----------------
LEG_Y_LINE = [737, 763, 789]
LEG_Y_TEXT = [740, 764, 790]
LEG_TEXT_COLORS = ["#0000ff", "#ff3300", "#000000"]
for si, name in enumerate(SERIES_NAMES):
    shapes.append(dict(type="line", xref="paper", yref="paper",
                       x0=fx(1073), x1=fx(1127), y0=fy(LEG_Y_LINE[si]), y1=fy(LEG_Y_LINE[si]),
                       line=dict(color=COLORS[si], width=WIDTHS[si] + 0.3)))
    annotations.append(dict(text=f"<b>{name}</b>", x=fx(1135), y=fy(LEG_Y_TEXT[si]),
                            xref="paper", yref="paper", xanchor="left", yanchor="middle",
                            showarrow=False,
                            font=dict(family=FONT, size=22.5, color=LEG_TEXT_COLORS[si])))

# frame
shapes.append(dict(type="rect", xref="paper", yref="paper", x0=fx(8), x1=fx(1328),
                   y0=fy(832), y1=fy(5), line=dict(color="#333333", width=1.5),
                   fillcolor="rgba(0,0,0,0)"))

fig.update_layout(width=W, height=H, autosize=False,
                  margin=dict(l=0, r=0, t=0, b=0, pad=0),
                  paper_bgcolor="white", plot_bgcolor="rgba(0,0,0,0)",
                  showlegend=False, annotations=annotations, shapes=shapes,
                  font=dict(family=FONT, color="black"), **layout_axes)

fig.write_html("out.html",
               config={"displayModeBar": False, "responsive": False},
               post_script="document.body.style.margin='0px';document.body.style.overflow='hidden';")
